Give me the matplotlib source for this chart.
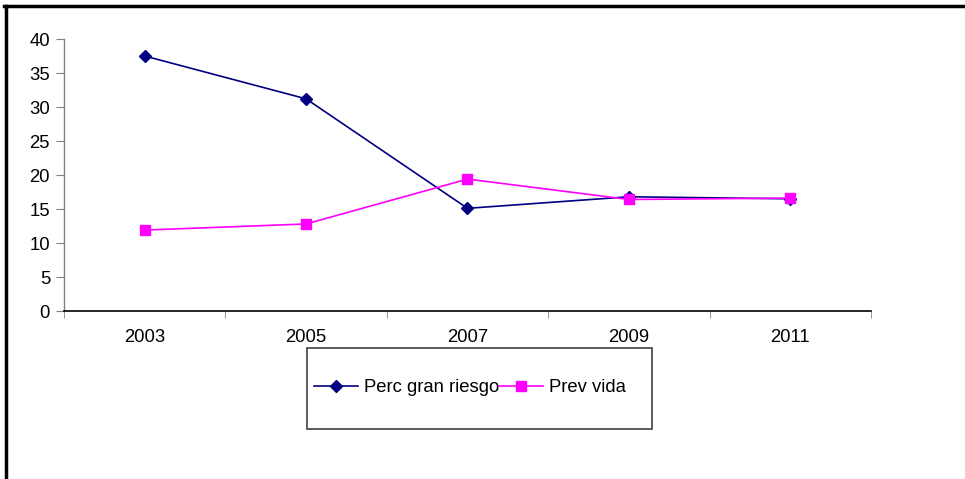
import matplotlib
matplotlib.use("Agg")
import matplotlib.pyplot as plt
from matplotlib.lines import Line2D
from matplotlib.patches import Rectangle

years = ["2003", "2005", "2007", "2009", "2011"]
perc_gran_riesgo = [37.5, 31.2, 15.1, 16.8, 16.5]
prev_vida = [11.9, 12.8, 19.4, 16.4, 16.6]
y_ticks = [0, 5, 10, 15, 20, 25, 30, 35, 40]

plt.rcParams["font.family"] = ["Liberation Sans", "DejaVu Sans"]
plt.rcParams["font.size"] = 13.3

W, H = 965, 479
fig = plt.figure(figsize=(W / 100, H / 100), dpi=100)
ax = fig.add_axes([64 / W, 1 - 311 / H, (871 - 64) / W, (311 - 39) / H])

x = list(range(len(years)))
ax.plot(x, perc_gran_riesgo, color="#000080", lw=1.2, marker="D", ms=6.5,
        label="Perc gran riesgo", clip_on=False)
ax.plot(x, prev_vida, color="#FF00FF", lw=1.2, marker="s", ms=6.5,
        label="Prev vida", clip_on=False)

ax.set_xlim(-0.5, len(years) - 0.5)
ax.set_ylim(0, 40)
ax.set_yticks(y_ticks)
ax.set_xticks(x)
ax.set_xticklabels(years)
ax.set_xticks([i - 0.5 for i in range(len(years) + 1)], minor=True)
ax.tick_params(axis="x", which="major", length=0, pad=13)
ax.tick_params(axis="x", which="minor", length=5, direction="out", color="#808080")
ax.tick_params(axis="y", length=6, direction="out", color="#808080", pad=4)

for s in ("top", "right"):
    ax.spines[s].set_visible(False)
ax.spines["left"].set_color("#808080")
ax.spines["bottom"].set_color("black")
ax.spines["left"].set_linewidth(1)
ax.spines["bottom"].set_linewidth(1.2)

# legend box
fig.patches.append(Rectangle((307 / W, 1 - 429 / H), (652 - 307) / W, (429 - 348) / H,
                             transform=fig.transFigure, fill=False,
                             edgecolor="#404040", lw=1.2))
fig.legend(loc="center left", bbox_to_anchor=(314 / W, 1 - 388 / H),
           ncol=2, frameon=False, handlelength=2.4, handletextpad=0.3,
           columnspacing=0.0, fontsize=13.3, borderaxespad=0, borderpad=0)

# outer frame (left and top edges)
fig.add_artist(Line2D([5.5 / W, 5.5 / W], [0, 1 - 6 / H], transform=fig.transFigure,
                      color="black", lw=2.5))
fig.add_artist(Line2D([4.2 / W, 1], [1 - 6 / H, 1 - 6 / H], transform=fig.transFigure,
                      color="black", lw=2.5))

fig.savefig("out.png", dpi=100)
